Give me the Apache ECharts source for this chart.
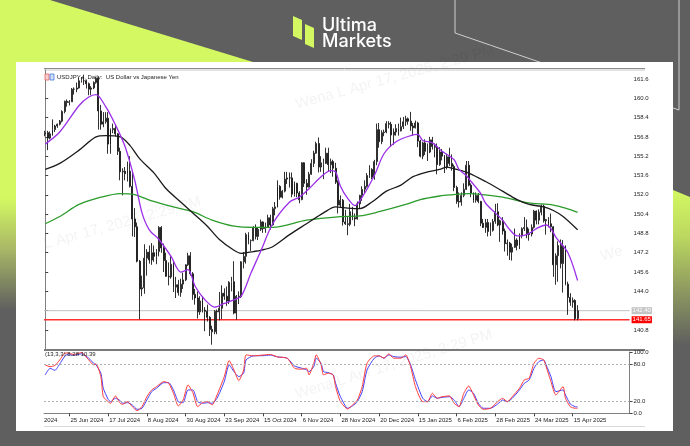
<!DOCTYPE html>
<html><head><meta charset="utf-8">
<script src="https://cdn.jsdelivr.net/npm/echarts@6/dist/echarts.min.js"></script>
<style>html,body{margin:0;padding:0;background:#5f5f5f}#c{width:690px;height:446px}</style>
</head><body><div id="c"></div>
<script>
// ---------- categories ----------
const tradingDays = [
  ['Jun 2024',[11,12,13,14,17,18,19,20,21,24,25,26,27,28]],
  ['Jul 2024',[1,2,3,4,5,8,9,10,11,12,15,16,17,18,19,22,23,24,25,26,29,30,31]],
  ['Aug 2024',[1,2,5,6,7,8,9,12,13,14,15,16,19,20,21,22,23,26,27,28,29,30]],
  ['Sep 2024',[2,3,4,5,6,9,10,11,12,13,16,17,18,19,20,23,24,25,26,27,30]],
  ['Oct 2024',[1,2,3,4,7,8,9,10,11,14,15,16,17,18,21,22,23,24,25,28,29,30,31]],
  ['Nov 2024',[1,4,5,6,7,8,11,12,13,14,15,18,19,20,21,22,25,26,27,28,29]],
  ['Dec 2024',[2,3,4,5,6,9,10,11,12,13,16,17,18,19,20,23,24,26,27,30,31]],
  ['Jan 2025',[2,3,6,7,8,9,10,13,14,15,16,17,20,21,22,23,24,27,28,29,30,31]],
  ['Feb 2025',[3,4,5,6,7,10,11,12,13,14,17,18,19,20,21,24,25,26,27,28]],
  ['Mar 2025',[3,4,5,6,7,10,11,12,13,14,17,18,19,20,21,24,25,26,27,28,31]],
  ['Apr 2025',[1,2,3,4,7,8,9,10,11,14,15,16,17]]
];
const dates = [];
tradingDays.forEach(([m, ds]) => ds.forEach(d => dates.push(d + ' ' + m)));
const emptySlots = 21; // chart shift area on the right
const dateLabels = ['25 Jun 2024','17 Jul 2024','8 Aug 2024','30 Aug 2024','23 Sep 2024','15 Oct 2024','6 Nov 2024','28 Nov 2024','20 Dec 2024','15 Jan 2025','6 Feb 2025','28 Feb 2025','24 Mar 2025','15 Apr 2025'];

// ---------- OHLC: [open, close, low, high] ----------
const candles = [
[157.05,157.15,156.85,157.30],[157.15,156.70,155.70,157.30],[156.70,157.05,156.60,157.25],[157.05,157.40,156.90,158.25],
[157.40,157.70,157.20,157.80],[157.70,157.85,157.55,157.90],[157.85,158.10,157.75,158.20],[158.10,158.90,158.00,159.00],
[158.90,159.75,158.75,159.80],[159.75,159.65,159.30,159.90],[159.65,159.70,159.40,159.85],[159.70,160.75,159.70,160.85],
[160.75,160.75,160.30,160.90],[160.75,160.85,160.50,161.30],[160.85,161.45,160.80,161.70],[161.45,161.45,161.30,161.75],
[161.45,161.45,161.10,161.95],[161.45,161.20,160.80,161.55],[161.20,160.75,160.25,161.30],[160.75,160.85,160.25,161.00],
[160.85,161.30,160.75,161.40],[161.30,161.65,161.20,161.75],[161.65,158.95,157.40,161.80],[158.95,157.85,157.40,159.45],
[157.85,158.05,157.60,158.85],[158.05,158.35,157.90,158.85],[158.35,156.20,155.40,158.85],[156.20,157.40,155.40,157.50],
[157.40,157.50,157.10,157.90],[157.50,157.05,156.85,157.85],[157.05,155.60,155.30,157.10],[155.60,153.90,153.20,155.90],
[153.90,153.95,151.95,154.20],[153.95,153.75,153.20,154.30],[153.75,153.95,153.10,154.75],[153.95,152.70,152.60,155.20],
[152.70,150.00,148.55,153.90],[150.00,149.35,148.50,150.90],[149.35,146.50,146.40,149.70],[146.50,144.20,141.68,146.60],
[144.20,144.30,143.60,145.30],[144.30,146.75,143.80,147.90],[146.75,147.25,145.30,147.50],[147.25,146.60,146.30,147.80],
[146.60,147.20,146.20,148.00],[147.20,146.90,146.45,147.80],[146.90,147.30,146.25,147.50],[147.30,149.30,146.90,149.40],
[149.30,147.60,147.20,149.40],[147.60,146.55,145.60,147.95],[146.55,145.25,145.20,147.20],[145.25,145.20,144.50,146.40],
[145.20,146.25,145.05,146.90],[146.25,144.35,143.95,146.50],[144.35,144.55,143.45,145.20],[144.55,143.90,143.65,144.95],
[143.90,144.60,143.55,145.05],[144.60,144.95,144.20,145.55],[144.95,146.20,144.85,146.25],[146.20,146.95,146.10,147.20],
[146.95,145.45,145.30,147.25],[145.45,143.75,143.30,145.60],[143.75,143.45,142.90,144.20],[143.45,142.30,141.75,144.00],
[142.30,143.20,142.05,143.60],[143.20,142.45,142.25,143.60],[142.45,142.35,140.70,142.70],[142.35,141.85,141.50,142.90],
[141.85,140.85,140.30,141.95],[140.85,140.65,139.58,141.15],[140.65,142.35,140.45,142.45],[142.35,142.30,140.45,142.50],
[142.30,142.60,141.60,143.95],[142.60,143.85,141.70,144.50],[143.85,143.60,143.30,144.25],[143.60,143.20,142.80,144.40],
[143.20,144.75,142.95,144.85],[144.75,144.80,144.00,145.20],[144.80,142.20,142.10,146.50],[142.20,143.60,141.65,143.70],
[143.60,143.55,142.95,144.00],[143.55,146.45,143.45,146.50],[146.45,146.90,145.90,147.25],[146.90,148.70,146.30,148.85],
[148.70,148.20,147.90,148.90],[148.20,148.20,147.35,148.30],[148.20,149.30,148.15,149.40],[149.30,148.55,148.30,149.55],
[148.55,149.15,148.25,149.25],[149.15,149.75,149.00,149.95],[149.75,149.20,148.85,149.80],[149.20,149.30,148.85,149.70],
[149.30,150.10,149.25,150.35],[150.10,149.50,149.10,150.35],[149.50,150.85,149.45,151.00],[150.85,151.00,150.30,151.40],
[151.00,152.70,150.95,153.20],[152.70,151.80,151.60,152.80],[151.80,152.30,151.70,152.40],[152.30,153.30,152.20,153.90],
[153.30,153.40,152.90,153.90],[153.40,153.40,152.60,153.85],[153.40,152.05,151.80,153.85],[152.05,152.95,151.85,153.10],
[152.95,152.15,151.80,153.00],[152.15,151.60,151.30,152.30],[151.60,154.65,151.55,154.70],[154.65,152.95,152.65,154.70],
[152.95,152.65,152.00,153.30],[152.65,153.70,152.60,153.90],[153.70,154.60,153.65,154.95],[154.60,155.45,154.30,155.65],
[155.45,156.25,155.40,156.40],[156.25,154.30,153.85,156.75],[154.30,154.65,153.90,155.20],[154.65,154.60,153.30,155.00],
[154.60,155.45,154.55,155.90],[155.45,154.50,153.90,155.90],[154.50,154.75,153.80,155.00],[154.75,154.20,153.50,154.90],
[154.20,153.05,152.90,154.65],[153.05,151.15,150.45,153.20],[151.15,151.55,150.95,151.95],[151.55,149.75,149.45,151.65],
[149.75,149.60,149.50,150.75],[149.60,149.55,148.65,150.20],[149.55,150.60,149.40,151.25],[150.60,150.10,149.90,151.00],
[150.10,150.00,149.40,150.45],[150.00,151.25,149.95,151.45],[151.25,151.95,150.85,152.00],[151.95,152.45,151.50,152.70],
[152.45,152.70,152.10,153.20],[152.70,153.60,152.60,153.80],[153.60,154.10,153.40,154.45],[154.10,153.45,153.30,154.20],
[153.45,154.75,153.25,154.90],[154.75,157.40,154.45,157.90],[157.40,156.40,155.90,157.95],[156.40,157.15,156.20,157.35],
[157.15,157.20,156.85,157.40],[157.20,157.90,157.10,158.10],[157.90,157.85,157.50,158.10],[157.85,156.95,156.00,158.05],
[156.95,157.20,156.15,157.50],[157.20,157.50,156.90,157.85],[157.50,157.30,156.90,157.90],[157.30,157.65,157.25,158.40],
[157.65,158.05,157.45,158.45],[158.05,158.30,157.70,158.55],[158.30,158.10,157.80,158.40],[158.10,157.70,157.30,158.87],
[157.70,157.55,156.90,157.95],[157.55,157.95,157.50,158.15],[157.95,156.45,155.95,158.05],[156.45,155.20,155.10,156.55],
[155.20,156.30,154.95,156.40],[156.30,155.60,155.30,156.60],[155.60,155.55,154.80,156.25],[155.55,156.55,155.45,156.80],
[156.55,156.00,155.75,156.80],[156.00,155.95,155.10,156.25],[155.95,154.50,153.70,156.25],[154.50,155.55,154.40,155.95],
[155.55,155.20,154.85,155.80],[155.20,154.30,153.80,155.30],[154.30,155.15,154.10,155.40],[155.15,154.60,154.40,155.90],
[154.60,154.35,154.00,155.35],[154.35,152.60,152.30,154.50],[152.60,151.45,151.25,152.75],[151.45,151.40,150.95,152.20],
[151.40,151.95,151.10,152.20],[151.95,152.45,151.80,152.95],[152.45,154.45,152.40,154.80],[154.45,152.80,152.70,154.80],
[152.80,152.15,151.80,152.95],[152.15,151.55,151.35,152.20],[151.55,151.95,151.35,152.20],[151.95,151.45,151.30,152.15],
[151.45,149.65,149.40,151.50],[149.65,149.30,149.25,150.00],[149.30,149.70,148.85,150.00],[149.70,148.95,148.55,150.00],
[148.95,149.05,148.60,149.70],[149.05,149.80,148.95,150.00],[149.80,150.60,149.60,151.25],[150.60,149.50,149.40,151.30],
[149.50,149.85,148.10,149.95],[149.85,149.00,148.70,150.15],[149.00,147.95,147.30,149.20],[147.95,148.00,146.95,148.30],
[148.00,147.25,146.60,148.10],[147.25,147.65,146.55,147.95],[147.65,148.25,147.60,149.20],[148.25,147.80,147.40,148.40],
[147.80,148.60,147.50,148.80],[148.60,149.20,148.40,149.30],[149.20,149.30,149.00,150.15],[149.30,148.70,148.40,149.95],
[148.70,148.75,148.20,149.20],[148.75,149.30,148.55,149.55],[149.30,150.65,149.20,150.75],[150.65,149.90,149.55,150.70],
[149.90,150.55,149.55,150.80],[150.55,151.05,150.30,151.20],[151.05,149.85,149.70,151.20],[149.85,149.95,148.70,150.00],
[149.95,149.60,149.30,150.15],[149.60,149.35,148.90,150.45],[149.35,146.20,145.20,149.40],[146.20,146.95,144.55,147.15],
[146.95,147.80,144.80,148.15],[147.80,146.30,145.90,148.30],[146.30,147.75,143.90,148.25],[147.75,144.60,144.50,147.80],
[144.60,143.50,142.05,144.80],[143.50,143.10,142.80,143.85],[143.10,143.25,142.65,143.50],[143.25,141.75,141.60,143.35],
[141.75,142.40,141.60,142.85]
];

// ---------- moving averages: [barIndex, value] ----------
const maFast = [[0,156.2],[6,157.2],[14,159.4],[18,160.1],[21,160.3],[25,159.3],[29,157.8],[33,156.0],[37,153.2],[40,150.5],[43,149.1],[47,148.3],[52,146.9],[56,145.6],[59,145.8],[62,144.4],[66,143.3],[70,142.7],[74,143.0],[78,143.3],[81,143.6],[85,145.5],[89,147.3],[94,149.6],[101,151.4],[105,151.8],[109,152.5],[114,153.5],[118,154.0],[120,153.9],[122,152.7],[125,151.7],[128,151.1],[131,151.8],[136,153.6],[140,155.4],[145,156.4],[151,156.9],[154,157.0],[156,156.5],[160,156.3],[164,155.6],[169,154.9],[171,154.1],[174,153.6],[176,153.1],[180,152.1],[182,151.3],[186,150.5],[189,149.9],[192,149.1],[195,148.6],[197,148.6],[200,148.8],[203,149.2],[207,149.5],[209,149.2],[211,148.5],[216,147.2],[220,144.9]];
const maMid = [[0,154.1],[6,154.6],[14,155.7],[21,156.8],[25,156.9],[31,156.8],[35,156.1],[39,155.0],[45,153.8],[50,152.5],[56,151.4],[61,150.5],[67,149.4],[72,148.3],[78,147.4],[81,147.15],[86,147.3],[89,147.4],[94,147.7],[101,148.7],[108,149.6],[115,150.5],[120,151.0],[125,150.9],[130,150.85],[135,151.4],[141,152.3],[147,152.8],[152,153.5],[158,153.9],[163,154.1],[166,154.3],[170,154.1],[175,153.8],[182,153.1],[189,152.3],[195,151.6],[200,151.2],[206,151.0],[210,150.7],[214,150.2],[220,149.1]];
const maSlow = [[0,149.6],[6,150.2],[14,151.2],[23,151.8],[31,152.1],[36,152.05],[44,151.5],[53,151.0],[61,150.6],[69,149.9],[78,149.4],[87,149.3],[94,149.3],[108,149.9],[122,150.2],[130,150.25],[138,150.6],[149,151.2],[155,151.6],[163,151.9],[168,152.0],[175,152.1],[189,151.8],[199,151.35],[210,151.15],[215,150.9],[220,150.55]];

// ---------- stochastic: [barIndex, value] ----------
const stochMain = [[0,78.9],[2,76],[4,78],[6,87],[8,98],[9,98.4],[12,96],[15,99],[18,87],[20,79],[21,80.6],[23,59.8],[24,27.1],[26,19],[27,16.3],[29,28.3],[31,16.3],[32,14.7],[34,19],[36,10.8],[38,4.3],[40,10.8],[42,27.1],[44,38.1],[46,43.5],[49,51.7],[51,49],[53,32.7],[55,12],[57,21.7],[59,46.3],[61,33.7],[63,10.8],[65,17.3],[67,19],[69,13.6],[71,29.9],[74,59.8],[76,86],[78,70.8],[80,53.3],[82,70.8],[83,95.3],[86,93.7],[90,95],[93,96],[96,92],[100,89.9],[103,73.6],[106,71.9],[108,73.6],[109,62.6],[111,81.7],[112,95.3],[114,79],[115,62.6],[117,65.4],[119,62.6],[120,43.5],[122,19],[125,7],[127,13.6],[129,21.7],[131,43.5],[133,81.7],[136,93.7],[138,93.7],[140,89.9],[142,97],[144,89.9],[147,89.9],[149,95.3],[151,76.2],[153,43.5],[156,19],[158,19],[160,32.7],[162,24.5],[164,27.1],[167,28.3],[169,16.3],[171,10.8],[173,32.7],[175,44.6],[177,29.9],[179,13.6],[181,6.5],[184,8.2],[187,19],[189,24.5],[191,19],[193,27.1],[196,40.9],[198,54.5],[200,57.2],[202,81.7],[204,89.9],[206,87],[207,76.2],[209,51.7],[211,29.9],[214,43.5],[215,24.5],[217,10.8],[219,8.2],[220,8.28]];
const stochSignal = [[0,62.6],[2,73.5],[4,70],[6,80.6],[8,92.6],[9,95.4],[12,95],[15,97],[18,89.9],[20,81.7],[21,79],[23,65.4],[24,40.9],[26,22.9],[27,19],[29,24.5],[31,20.6],[32,16.3],[34,17.3],[36,13.6],[38,6.5],[40,8.2],[42,21.7],[44,35.3],[46,40.9],[49,50],[51,50],[53,38.1],[55,19],[57,17.3],[59,38.1],[61,38.1],[63,19],[65,16.3],[67,17.3],[69,16.3],[71,24.5],[74,51.7],[76,79],[78,68],[80,59.8],[82,65.4],[83,87],[86,93.7],[90,94],[93,95],[96,92],[100,89.9],[103,77.3],[106,73.6],[108,70.8],[109,68],[111,76.2],[112,89.9],[114,81.7],[115,68],[117,66.4],[119,62.6],[120,49],[122,27.1],[125,8.2],[127,12],[129,19],[131,35.3],[133,70.8],[136,89.9],[138,93.7],[140,89.9],[142,95.3],[144,92.6],[147,91.5],[149,92.6],[151,79],[153,54.5],[156,24.5],[158,19],[160,28.3],[162,24.5],[164,26],[167,27.1],[169,21.7],[171,10.8],[173,24.5],[175,38.1],[177,32.7],[179,16.3],[181,8.2],[184,8.2],[187,15.2],[189,21.7],[191,19],[193,24.5],[196,38.1],[198,49],[200,54.5],[202,73.6],[204,84.4],[206,87],[207,79],[209,59.8],[211,35.3],[214,38.1],[215,29.9],[217,15.2],[219,10.8],[220,10.39]];

// ---------- ticks / levels ----------
const priceTicks = [140.8,142.4,144.0,145.6,147.2,148.8,150.4,152.0,153.6,155.2,156.8,158.4,160.0,161.6];
const stochTicks = [0,20,80,100];
const stochLevels = [20,80];
const askLevel = 142.40;
const supportLevel = 141.65;

const cats = dates.concat(Array(emptySlots).fill(''));
const lastSlot = cats.length - 1;
const FONT = 'Liberation Sans';
const lime = '#d3f862';
const wm = 'rgba(0,0,0,0.05)';

const chart = echarts.init(document.getElementById('c'), null, {renderer:'canvas'});
const showLabel = (i, v) => dateLabels.indexOf(v) >= 0;

// horizontal level drawn through the axes (spans the whole plot width)
function levelSeries(value, lineColor, boxColor, width) {
  return {type:'line', xAxisIndex:2, yAxisIndex:0, silent:true, showSymbol:false, z:3,
    data:[[-0.5, value],[lastSlot + 0.5, value]],
    lineStyle:{color:lineColor, width:width},
    itemStyle:{color:lineColor},
    endLabel:{show:true, formatter:value.toFixed(2), color:'#ffffff', backgroundColor:boxColor, fontSize:6, fontFamily:FONT, padding:[1,1,0,1], distance:2}};
}

chart.setOption({
  backgroundColor: '#5f5f5f',
  animation: false,
  graphic: [
    {type:'polygon', z:-20, shape:{points:[[0,0],[50,0],[253,62],[0,62]]}, style:{fill:lime}},
    {type:'rect', z:-20, shape:{x:0,y:0,width:16,height:310}, style:{fill:new echarts.graphic.LinearGradient(0,0,0,1,[{offset:0,color:lime},{offset:0.64,color:lime},{offset:0.8,color:'#a9b966'},{offset:1,color:'#5f5f5f'}])}},
    {type:'polygon', z:-20, shape:{points:[[673,190],[690,197],[690,345],[673,345]]}, style:{fill:new echarts.graphic.LinearGradient(0,0,0,1,[{offset:0,color:lime},{offset:0.3,color:'#bcd860'},{offset:0.65,color:'#8d9960'},{offset:1,color:'#5f5f5f'}])}},
    {type:'polyline', z:-19, shape:{points:[[455,0],[455,33],[679,110],[679,0]]}, style:{stroke:'#cfcfcf', lineWidth:1, fill:null}},
    {type:'polygon', z:-18, shape:{points:[[293,16],[302,20],[302,40],[293,36]]}, style:{fill:lime}},
    {type:'polygon', z:-18, shape:{points:[[305,24],[314,28],[314,48],[305,44]]}, style:{fill:lime}},
    {type:'text', z:-18, x:322, y:17, style:{text:'Ultima', fill:'#ffffff', font:'500 18px Inter', textVerticalAlign:'top'}},
    {type:'text', z:-18, x:322, y:33, style:{text:'Markets', fill:'#ffffff', font:'500 18px Inter', textVerticalAlign:'top'}},
    {type:'rect', z:-15, shape:{x:16,y:62,width:657,height:369}, style:{fill:'#ffffff'}},
    {type:'text', z:-14, x:298, y:112, rotation:0.27, style:{text:'Wena L Apr 17, 2025, 2:29 PM', fill:wm, font:'15px "Liberation Sans"', textVerticalAlign:'bottom'}},
    {type:'text', z:-14, x:46, y:252, rotation:0.27, style:{text:'L Apr 17, 2025, 2:29 PM', fill:wm, font:'15px "Liberation Sans"', textVerticalAlign:'bottom'}},
    {type:'text', z:-14, x:298, y:402, rotation:0.3, style:{text:'Wena L Apr 17, 2025, 2:29 PM', fill:wm, font:'15px "Liberation Sans"', textVerticalAlign:'bottom'}},
    {type:'text', z:-14, x:603, y:264, rotation:0.27, style:{text:'We', fill:wm, font:'15px "Liberation Sans"', textVerticalAlign:'bottom'}},
    {type:'line', z:-10, shape:{x1:44,y1:68.5,x2:645,y2:68.5}, style:{stroke:'#8a8a8a', lineWidth:1}},
    {type:'line', z:-10, shape:{x1:44,y1:70,x2:645,y2:70}, style:{stroke:'#c8c8c8', lineWidth:1}},
    {type:'line', z:-10, shape:{x1:44,y1:350,x2:645,y2:350}, style:{stroke:'#7a7a7a', lineWidth:2}},
    {type:'line', z:-10, shape:{x1:44,y1:426.5,x2:645,y2:426.5}, style:{stroke:'#d8d8d8', lineWidth:1}},
    {type:'rect', z:5, shape:{x:45,y:74,width:4,height:6}, style:{fill:'#fbd0d0', stroke:'#e06060', lineWidth:0.8}},
    {type:'rect', z:5, shape:{x:50,y:74,width:4,height:6}, style:{fill:'#d0e0fb', stroke:'#4a7ad8', lineWidth:0.8}},
    {type:'text', z:5, x:57, y:77, style:{text:'USDJPY+, Daily:  US Dollar vs Japanese Yen', fill:'#222', font:'6px "Liberation Sans"', textVerticalAlign:'middle'}},
    {type:'text', z:5, x:45, y:354, style:{text:'(13,3,3) 8.28 10.39', fill:'#222', font:'6px "Liberation Sans"', textVerticalAlign:'middle'}},
    {type:'text', z:5, x:44, y:420, style:{text:'2024', fill:'#222', font:'6px "Liberation Sans"', textVerticalAlign:'middle'}}
  ],
  grid: [
    {left:44, top:70, width:585.6, height:279.3},
    {left:44, top:352, width:585.6, height:61.3}
  ],
  xAxis: [
    {type:'category', gridIndex:0, data:cats, boundaryGap:true, axisLine:{show:false}, axisTick:{show:false}, axisLabel:{show:false}, splitLine:{show:false}},
    {type:'category', gridIndex:1, data:cats, boundaryGap:true,
      axisLine:{show:true, lineStyle:{color:'#808080', width:1}},
      axisTick:{show:true, alignWithLabel:true, interval:showLabel, length:3, lineStyle:{color:'#444'}},
      axisLabel:{show:true, interval:showLabel, align:'left', margin:4, padding:[0,0,0,1], fontSize:6, fontFamily:FONT, color:'#222'},
      splitLine:{show:false}},
    {type:'value', gridIndex:0, min:-0.5, max:lastSlot + 0.5, show:false}
  ],
  yAxis: [
    {type:'value', gridIndex:0, position:'right', min:139.2, max:162.34, scale:true,
      axisLine:{show:true, lineStyle:{color:'#808080'}},
      axisTick:{show:true, length:3, customValues:priceTicks, lineStyle:{color:'#444'}},
      axisLabel:{show:true, customValues:priceTicks, margin:4, fontSize:6, fontFamily:FONT, color:'#222', formatter:v=>v.toFixed(1)},
      splitLine:{show:false}},
    {type:'value', gridIndex:1, position:'right', min:0, max:100,
      axisLine:{show:true, lineStyle:{color:'#808080'}},
      axisTick:{show:true, length:3, customValues:stochTicks, lineStyle:{color:'#444'}},
      axisLabel:{show:true, customValues:stochTicks, margin:4, fontSize:6, fontFamily:FONT, color:'#222', formatter:v=>v.toFixed(1)},
      splitLine:{show:false}}
  ],
  series: [
    levelSeries(askLevel, '#c0c0c0', '#c4c4c4', 1),
    levelSeries(supportLevel, '#ff3030', '#ff0000', 1.3),
    {type:'candlestick', xAxisIndex:0, yAxisIndex:0, data:candles, barWidth:1.4, z:4,
      itemStyle:{color:'#ffffff', color0:'#1a1a1a', borderColor:'#1a1a1a', borderColor0:'#1a1a1a', borderWidth:0.9}},
    {type:'line', xAxisIndex:0, yAxisIndex:0, data:maSlow, showSymbol:false, smooth:0.3, z:5, lineStyle:{color:'#2b9b2b', width:1.3}},
    {type:'line', xAxisIndex:0, yAxisIndex:0, data:maMid, showSymbol:false, smooth:0.3, z:5, lineStyle:{color:'#1a1a1a', width:1.3}},
    {type:'line', xAxisIndex:0, yAxisIndex:0, data:maFast, showSymbol:false, smooth:0.3, z:5, lineStyle:{color:'#9b30e8', width:1.3}},
    {type:'line', xAxisIndex:1, yAxisIndex:1, data:stochSignal, showSymbol:false, smooth:0.2, lineStyle:{color:'#4040ff', width:1},
      markLine:{silent:true, symbol:'none', label:{show:false}, lineStyle:{color:'#b0b0b0', type:[2,2], width:1},
        data:stochLevels.map(v=>({yAxis:v}))}},
    {type:'line', xAxisIndex:1, yAxisIndex:1, data:stochMain, showSymbol:false, smooth:0.2, lineStyle:{color:'#ff3a3a', width:1}}
  ]
});
</script>
</body></html>
